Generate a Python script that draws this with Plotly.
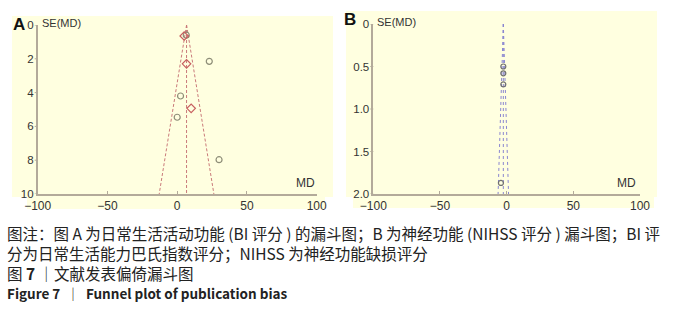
import numpy as np
import plotly.graph_objects as go

W, H = 684, 319

# ---------------- data ----------------
# Panel A (BI score)
a_circle_md = [6.5, 23.0, 2.4, 0.0, 30.0]
a_circle_se = [0.6, 2.15, 4.2, 5.46, 7.97]
a_diamond_md = [5.0, 6.7, 10.0]
a_diamond_se = [0.65, 2.3, 4.93]
a_pooled_md = 6.7
a_se_max = 10

# Panel B (NIHSS score)
b_md = [-2.5, -2.5, -2.5, -4.3]
b_se = [0.50, 0.58, 0.71, 1.87]
b_pooled_md = -2.5
b_se_max = 2.0

x_ticks = [-100, -50, 0, 50, 100]
a_y_ticks = [0, 2, 4, 6, 8, 10]
b_y_ticks = [0, 0.5, 1.0, 1.5, 2.0]
b_y_labels = ["0", "0.5", "1.0", "1.5", "2.0"]

caption_lines = [
    "图注：图 A 为日常生活活动功能 (BI 评分 ) 的漏斗图；B 为神经功能 (NIHSS 评分 ) 漏斗图；BI 评",
    "分为日常生活能力巴氏指数评分；NIHSS 为神经功能缺损评分",
    "图 <b>7</b> ｜文献发表偏倚漏斗图",
    "<b>Figure 7</b>  ｜  <b>Funnel plot of publication bias</b>",
]

# ---------------- helpers ----------------
def px(x):
    return x / W

def py(y):
    return 1 - y / H

BG = "#FFFFE0"
AXIS = "#B3AA9A"
TXT = "#333333"
FONT = "Liberation Sans"

fig = go.Figure()

def funnel(xa, ya, pooled, semax, color, dash):
    se = np.array([0, semax])
    fig.add_trace(go.Scatter(x=[pooled, pooled], y=[0, semax], mode="lines",
                             line=dict(color=color, width=1, dash=dash),
                             xaxis=xa, yaxis=ya, showlegend=False, hoverinfo="skip"))
    for s in (-1, 1):
        fig.add_trace(go.Scatter(x=pooled + s * 1.96 * se, y=se, mode="lines",
                                 line=dict(color=color, width=1, dash=dash),
                                 xaxis=xa, yaxis=ya, showlegend=False, hoverinfo="skip"))

funnel("x", "y", a_pooled_md, a_se_max, "#C97A7A", "3px,2px")
fig.add_trace(go.Scatter(x=a_circle_md, y=a_circle_se, mode="markers",
                         marker=dict(symbol="circle-open", size=6, color="#8E8E78", line=dict(width=1.2)),
                         xaxis="x", yaxis="y", showlegend=False))
fig.add_trace(go.Scatter(x=a_diamond_md, y=a_diamond_se, mode="markers",
                         marker=dict(symbol="diamond-open", size=6.5, color="#C86060", line=dict(width=1.2)),
                         xaxis="x", yaxis="y", showlegend=False))

funnel("x2", "y2", b_pooled_md, b_se_max, "#8A86D0", "dot")
fig.add_trace(go.Scatter(x=b_md, y=b_se, mode="markers",
                         marker=dict(symbol="circle-open", size=5, color="#707070", line=dict(width=1.2)),
                         xaxis="x2", yaxis="y2", showlegend=False))

xcommon = dict(range=[-100, 100], tickvals=x_ticks, showgrid=False, zeroline=False, automargin=False,
               showline=True, linecolor=AXIS, linewidth=1.5, ticks="inside", ticklen=3,
               tickcolor=AXIS, tickfont=dict(family=FONT, size=12, color=TXT))
ycommon = dict(showgrid=False, zeroline=False, showline=True, linecolor=AXIS, linewidth=1.5,
               ticks="inside", ticklen=0, tickcolor=AXIS, automargin=False,
               tickfont=dict(family=FONT, size=11.5, color=TXT))

fig.update_layout(
    width=W, height=H,
    margin=dict(l=0, r=0, t=0, b=0, pad=0, autoexpand=False),
    paper_bgcolor="white", plot_bgcolor="rgba(0,0,0,0)",
    xaxis=dict(domain=[px(37.7), px(316.7)], anchor="y", **xcommon),
    yaxis=dict(domain=[py(194), py(25)], anchor="x", range=[a_se_max, 0], tickvals=a_y_ticks, **ycommon),
    xaxis2=dict(domain=[px(373.3), px(640)], anchor="y2", **xcommon),
    yaxis2=dict(domain=[py(194), py(24)], anchor="x2", range=[b_se_max, 0], tickvals=b_y_ticks,
                ticktext=b_y_labels, **ycommon),
)

# backgrounds
shapes = []
for x0, y0, x1, y1 in [(12, 16, 333, 197), (27, 197, 325, 209),
                       (346, 11, 657, 197), (353, 197, 654, 208)]:
    shapes.append(dict(type="rect", xref="paper", yref="paper", x0=px(x0), x1=px(x1),
                       y0=py(y1), y1=py(y0), fillcolor=BG, line=dict(width=0), layer="below"))
# small outside tick marks on the SE axes
for xa, ya, vals in [("x", "y", a_y_ticks), ("x2", "y2", b_y_ticks)]:
    dom = fig.layout[{"x": "xaxis", "x2": "xaxis2"}[xa]].domain[0]
    for v in vals:
        shapes.append(dict(type="line", xref="paper", yref=ya, x0=dom - 3 / W, x1=dom, y0=v, y1=v,
                           line=dict(color=AXIS, width=1)))
fig.update_layout(shapes=shapes)

ann = []
# panel letters
ann.append(dict(text="<b>A</b>", x=px(11), y=py(25), xref="paper", yref="paper",
                xanchor="left", yanchor="middle", showarrow=False,
                font=dict(family=FONT, size=17, color="#111")))
ann.append(dict(text="<b>B</b>", x=px(342), y=py(20), xref="paper", yref="paper",
                xanchor="left", yanchor="middle", showarrow=False,
                font=dict(family=FONT, size=17, color="#111")))
# axis titles
for xa, ya in [("x", "y"), ("x2", "y2")]:
    ann.append(dict(text="SE(MD)", x=-100, y=0, xref=xa, yref=ya, xanchor="left", yanchor="bottom",
                    xshift=2, yshift=-6, showarrow=False, font=dict(family=FONT, size=11, color=TXT)))
ann.append(dict(text="MD", x=100, y=a_se_max, xref="x", yref="y", xanchor="right", yanchor="bottom",
                yshift=2, showarrow=False, font=dict(family=FONT, size=12, color=TXT)))
ann.append(dict(text="MD", x=100, y=b_se_max, xref="x2", yref="y2", xanchor="right", yanchor="bottom",
                xshift=-2, yshift=2, showarrow=False, font=dict(family=FONT, size=12, color=TXT)))
# caption
cap_y = [233, 253, 273, 293]
cap_size = [15.5, 15.5, 15.5, 13.5]
for t, yy, fs in zip(caption_lines, cap_y, cap_size):
    ann.append(dict(text=t, x=px(5), y=py(yy), xref="paper", yref="paper", xanchor="left",
                    yanchor="middle", showarrow=False,
                    font=dict(family="Noto Sans CJK SC", size=fs, color="#222")))
fig.update_layout(annotations=ann)

fig.write_html("out.html", config={"displayModeBar": False},
               post_script="document.body.style.margin='0';document.body.style.padding='0';"
                           "document.body.style.overflow='hidden';")
